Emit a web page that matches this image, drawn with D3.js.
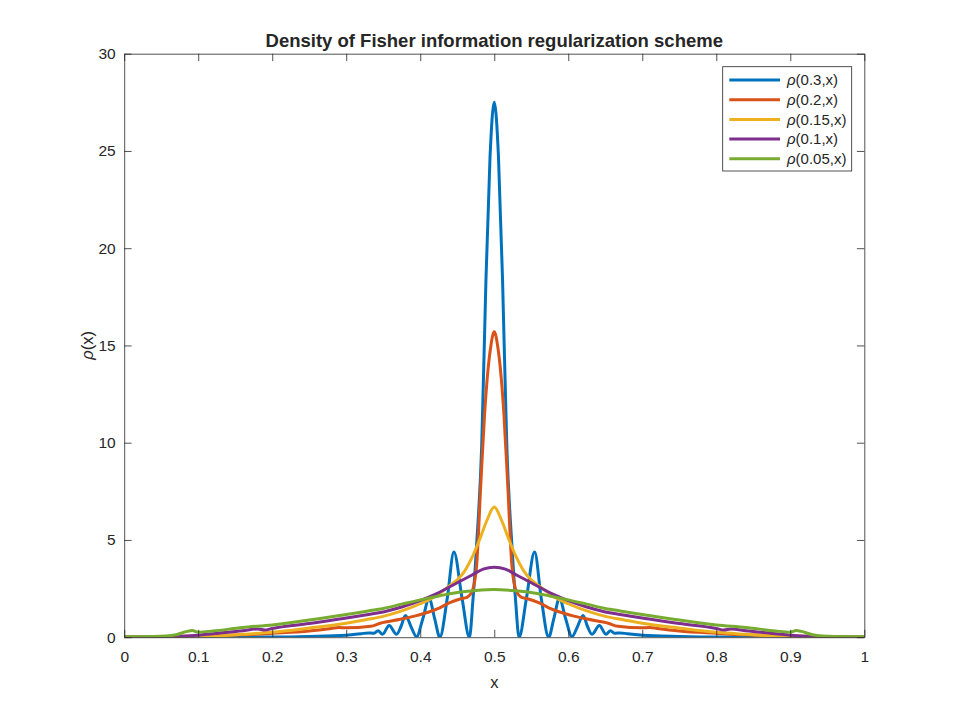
<!DOCTYPE html>
<html><head><meta charset="utf-8">
<script src="https://cdn.jsdelivr.net/npm/d3@7"></script>
<style>body{margin:0;background:#fff}svg{display:block}text{font-family:"Liberation Sans",Arial,Helvetica,sans-serif;fill:#262626}</style>
</head><body><svg id="c" width="955" height="716"></svg>
<script>
const xTicks=[0,0.1,0.2,0.3,0.4,0.5,0.6,0.7,0.8,0.9,1];
const xTickLabels=["0","0.1","0.2","0.3","0.4","0.5","0.6","0.7","0.8","0.9","1"];
const yTicks=[0,5,10,15,20,25,30];
const seriesNames=["0.3","0.2","0.15","0.1","0.05"];
const seriesColors=["#0072BD","#D95319","#EDB120","#7E2F8E","#77AC30"];

const blueX=[0,0.1,0.2,0.25,0.3,0.31,0.32,0.33,0.337,0.343,0.349,0.358,0.368,0.374,0.38,0.388,0.395,0.4035,0.412,0.4195,0.4265,0.4365,0.4455,0.4565,0.4665,0.471,0.476,0.483,0.4888,0.4943,0.5,0.5057,0.5112,0.517,0.524,0.529,0.5335,0.5435,0.5545,0.5635,0.5735,0.5805,0.588,0.5965,0.605,0.612,0.62,0.626,0.632,0.642,0.651,0.657,0.663,0.67,0.68,0.69,0.7,0.75,0.8,0.9,1];
const blueY=[0,0,0.01,0.04,0.1,0.14,0.18,0.22,0.2,0.33,0.15,0.6,0.15,0.55,1.12,0.5,0.03,0.95,2.0,0.95,0,2.0,4.38,2.0,0,1.8,4.65,9.8,18.4,24.7,27.5,24.7,18.4,9.8,4.65,1.8,0,2.0,4.38,2.0,0,0.95,2.0,0.95,0.03,0.5,1.12,0.55,0.15,0.6,0.15,0.33,0.2,0.22,0.18,0.14,0.1,0.04,0.01,0,0];

const orangeX=[0,0.05,0.1,0.16,0.2,0.25,0.28,0.29,0.3,0.333,0.346,0.373,0.396,0.423,0.44,0.455,0.463,0.47,0.476,0.482,0.487,0.4953,0.5,0.5047,0.513,0.518,0.524,0.53,0.537,0.545,0.56,0.577,0.604,0.627,0.654,0.667,0.7,0.71,0.72,0.75,0.8,0.84,0.9,0.95,1];
const orangeY=[0,0.02,0.06,0.12,0.2,0.32,0.45,0.5,0.48,0.56,0.72,0.92,1.12,1.45,1.78,1.98,2.05,2.35,3.6,8.0,11.5,14.95,15.7,14.95,11.5,8.0,3.6,2.35,2.05,1.98,1.78,1.45,1.12,0.92,0.72,0.56,0.48,0.5,0.45,0.32,0.2,0.12,0.06,0.02,0];

const yellowX=[0,0.05,0.1,0.16,0.2,0.25,0.3,0.326,0.35,0.375,0.4,0.42,0.44,0.45,0.46,0.47,0.48,0.49,0.5,0.51,0.52,0.53,0.54,0.55,0.56,0.58,0.6,0.625,0.65,0.674,0.7,0.75,0.8,0.84,0.9,0.95,1];
const yellowY=[0,0.01,0.03,0.15,0.25,0.47,0.72,0.9,1.07,1.35,1.72,2.1,2.65,2.95,3.4,4.1,5.0,6.0,6.7,6.0,5.0,4.1,3.4,2.95,2.65,2.1,1.72,1.35,1.07,0.9,0.72,0.47,0.25,0.15,0.03,0.01,0];

const purpleX=[0,0.05,0.1,0.12,0.16,0.18,0.19,0.2,0.25,0.3,0.33,0.35,0.375,0.4,0.42,0.45,0.47,0.485,0.5,0.515,0.53,0.55,0.58,0.6,0.625,0.65,0.67,0.7,0.75,0.8,0.81,0.82,0.84,0.88,0.9,0.95,1];
const purpleY=[0,0.02,0.1,0.18,0.33,0.42,0.37,0.45,0.7,0.99,1.17,1.3,1.55,1.88,2.2,2.8,3.2,3.5,3.6,3.5,3.2,2.8,2.2,1.88,1.55,1.3,1.17,0.99,0.7,0.45,0.37,0.42,0.33,0.18,0.1,0.02,0];

const greenX=[0,0.04,0.07,0.085,0.092,0.1,0.12,0.16,0.2,0.25,0.3,0.33,0.35,0.375,0.4,0.425,0.45,0.475,0.5,0.525,0.55,0.575,0.6,0.625,0.65,0.67,0.7,0.75,0.8,0.84,0.88,0.9,0.908,0.915,0.93,0.96,1];
const greenY=[0.02,0.04,0.13,0.3,0.34,0.26,0.32,0.5,0.63,0.88,1.17,1.35,1.48,1.7,1.92,2.12,2.3,2.4,2.45,2.4,2.3,2.12,1.92,1.7,1.48,1.35,1.17,0.88,0.63,0.5,0.32,0.26,0.34,0.3,0.13,0.04,0.02];

const seriesX=[blueX,orangeX,yellowX,purpleX,greenX];
const seriesY=[blueY,orangeY,yellowY,purpleY,greenY];

const svg=d3.select("#c");
const pL=124.2,pR=864.3,pT=53.7,pB=637.2;
const xS=d3.scaleLinear().domain([0,1]).range([pL,pR]);
const yS=d3.scaleLinear().domain([0,30]).range([pB,pT]);
const axc="#262626";

const lineGen=d3.line().x(d=>xS(d[0])).y(d=>yS(d[1])).curve(d3.curveMonotoneX);
svg.append("defs").append("clipPath").attr("id","cp").append("rect").attr("x",pL).attr("y",pT).attr("width",pR-pL).attr("height",pB-pT);
const gLines=svg.append("g").attr("clip-path","url(#cp)");
seriesX.forEach((xs,i)=>{
  const pts=xs.map((v,j)=>[v,seriesY[i][j]]);
  gLines.append("path").attr("d",lineGen(pts)).attr("fill","none").attr("stroke",seriesColors[i]).attr("stroke-width",3).attr("stroke-linejoin","round");
});

const tl=7.4;
const axB=d3.axisBottom(xS).tickValues(xTicks).tickFormat((d,i)=>xTickLabels[i]).tickSizeInner(-tl).tickSizeOuter(0).tickPadding(13.5);
const axL=d3.axisLeft(yS).tickValues(yTicks).tickSizeInner(-tl).tickSizeOuter(0).tickPadding(8.5);
const axT=d3.axisTop(xS).tickValues(xTicks).tickFormat("").tickSizeInner(-tl).tickSizeOuter(0);
const axR=d3.axisRight(yS).tickValues(yTicks).tickFormat("").tickSizeInner(-tl).tickSizeOuter(0);
function styleAx(sel){sel.select(".domain").attr("stroke",axc).attr("stroke-width",0.8);sel.selectAll(".tick line").attr("stroke",axc).attr("stroke-width",0.8);sel.selectAll(".tick text").attr("fill",axc).style("font-size","15.5px").style("font-family","'Liberation Sans',Arial,sans-serif");}
svg.append("g").attr("transform",`translate(0,${pB})`).call(axB).call(styleAx);
svg.append("g").attr("transform",`translate(${pL},0)`).call(axL).call(styleAx);
svg.append("g").attr("transform",`translate(0,${pT})`).call(axT).call(styleAx);
svg.append("g").attr("transform",`translate(${pR},0)`).call(axR).call(styleAx);

svg.append("text").attr("x",(pL+pR)/2).attr("y",46.5).attr("text-anchor","middle").style("font-size","18.5px").style("font-weight","bold").text("Density of Fisher information regularization scheme");
svg.append("text").attr("x",(pL+pR)/2).attr("y",688).attr("text-anchor","middle").style("font-size","16.5px").text("x");
const yl=svg.append("text").attr("transform",`translate(93,${(pT+pB)/2}) rotate(-90)`).attr("text-anchor","middle").style("font-size","16.5px");
yl.append("tspan").style("font-style","italic").text("ρ");
yl.append("tspan").text("(x)");

const lg=svg.append("g");
lg.append("rect").attr("x",722.7).attr("y",66.7).attr("width",129).attr("height",104.3).attr("fill","#fff").attr("stroke",axc).attr("stroke-width",0.8);
seriesNames.forEach((n,i)=>{
  const yy=80+i*19.7;
  lg.append("line").attr("x1",729.3).attr("x2",780).attr("y1",yy).attr("y2",yy).attr("stroke",seriesColors[i]).attr("stroke-width",3);
  const t=lg.append("text").attr("x",787).attr("y",yy+5.3).style("font-size","15px");
  t.append("tspan").style("font-style","italic").text("ρ");
  t.append("tspan").text("("+n+",x)");
});
</script></body></html>
